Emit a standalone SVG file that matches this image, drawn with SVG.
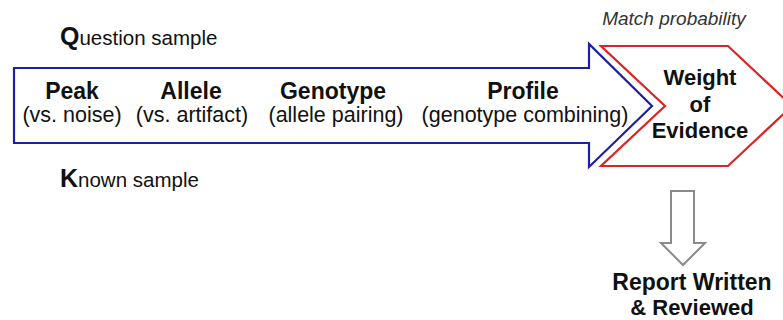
<svg xmlns="http://www.w3.org/2000/svg" width="783" height="320" viewBox="0 0 783 320">
<style>
  text { font-family: "Liberation Sans", Arial, sans-serif; fill: #111; text-anchor: middle; }
  .h { font-weight: bold; font-size: 23px; }
  .s { font-size: 21.5px; }
  .w { font-weight: bold; font-size: 22px; }
  .r { font-weight: bold; font-size: 23px; }
  .lab { text-anchor: start; font-size: 20.5px; }
  .big { font-weight: bold; font-size: 25px; }
  .ital { font-style: italic; font-size: 19px; fill: #333; }
</style>
<rect width="783" height="320" fill="#ffffff"/>
<g id="connectors">
  <path d="M671,191 L694,191 L694,243 L705,243 L683,265 L661,243 L671,243 Z" fill="#ffffff" stroke="#8a8a8a" stroke-width="2" stroke-linejoin="miter"/>
</g>
<g id="process-arrow">
  <path d="M14,68 L589,68 L589,44 L652,106 L589,167 L589,143 L14,143 Z" fill="#ffffff" stroke="#1f1fa3" stroke-width="2.2"/>
  <text class="h" x="72" y="99">Peak</text>
  <text class="s" x="72" y="122">(vs. noise)</text>
  <text class="h" x="191" y="99">Allele</text>
  <text class="s" x="192" y="122">(vs. artifact)</text>
  <text class="h" x="333" y="99">Genotype</text>
  <text class="s" x="336" y="122">(allele pairing)</text>
  <text class="h" x="523" y="99">Profile</text>
  <text class="s" x="525" y="122">(genotype combining)</text>
</g>
<g id="weight-of-evidence">
  <path d="M601,46 L728,46 L792,106 L728,166 L601,166 L665,106 Z" fill="#ffffff" stroke="#dd2424" stroke-width="2.2"/>
  <text class="w" x="700" y="85">Weight</text>
  <text class="w" x="700" y="112">of</text>
  <text class="w" x="700" y="138">Evidence</text>
</g>
<g id="match-probability">
  <text class="ital" x="674" y="25">Match probability</text>
</g>
<g id="question-sample">
  <text class="lab" x="60" y="45"><tspan class="big">Q</tspan>uestion sample</text>
</g>
<g id="known-sample">
  <text class="lab" x="60" y="187"><tspan class="big">K</tspan>nown sample</text>
</g>
<g id="report">
  <text class="r" x="692" y="290">Report Written</text>
  <text class="w" x="692" y="315">&amp; Reviewed</text>
</g>
</svg>
